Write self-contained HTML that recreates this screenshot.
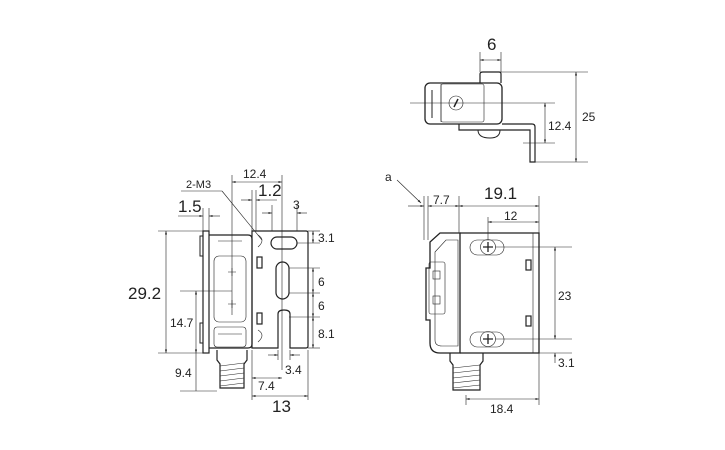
<!DOCTYPE html>
<html><head><meta charset="utf-8"><style>
html,body{margin:0;padding:0;background:#fff;}
svg{display:block;font-family:"Liberation Sans",Arial,sans-serif;}
</style></head><body>
<svg width="725" height="450" viewBox="0 0 725 450" xmlns="http://www.w3.org/2000/svg">
<defs>
<marker id="a" viewBox="0 0 10 10" refX="10" refY="5" markerWidth="6" markerHeight="6" orient="auto-start-reverse"><path d="M0,2 L10,5 L0,8 z" fill="#222"/></marker>
</defs>
<g fill="none" stroke="#222" stroke-width="0.6">
<!-- ===== TOP VIEW ===== -->
<rect x="425" y="83" width="77" height="41" rx="5" stroke-width="1.3"/>
<rect x="441" y="84" width="43" height="38" rx="2"/>
<line x1="432" y1="90" x2="432" y2="118" stroke-width="1"/>
<line x1="441" y1="84" x2="441" y2="122"/>
<circle cx="456" cy="103" r="7"/>
<line x1="454" y1="107" x2="458" y2="99" stroke-width="1.5"/>
<path d="M480,83 V74 Q480,72 483,72 H499 Q501,72 501,74 V83" stroke-width="1.2"/>
<path d="M459,124 V130 H530 V162 H535 V127 Q535,124 532,124 H502" stroke-width="1.2"/>
<path d="M478,130 Q478,138 490,138 Q500,138 500,130" stroke-width="1"/>
<!-- top dims -->
<line x1="480" y1="52" x2="480" y2="72"/>
<line x1="501" y1="52" x2="501" y2="72"/>
<line x1="480" y1="60" x2="501" y2="60" marker-start="url(#a)" marker-end="url(#a)"/>
<line x1="501" y1="72" x2="588" y2="72"/>
<line x1="535" y1="162" x2="588" y2="162"/>
<line x1="576" y1="72" x2="576" y2="162" marker-start="url(#a)" marker-end="url(#a)"/>
<line x1="410" y1="103" x2="555" y2="103"/>
<line x1="523" y1="143" x2="555" y2="143"/>
<line x1="545" y1="103" x2="545" y2="143" marker-start="url(#a)" marker-end="url(#a)"/>

<!-- ===== LEFT VIEW ===== -->
<rect x="203" y="231" width="6" height="122" stroke-width="1.2"/>
<path d="M203,236 h-3 v20 h3 M203,323 h-3 v20 h3" stroke-width="1"/>
<path d="M209,235 H248 Q252,235 252,239 V344 Q252,348 248,348 H209" stroke-width="1.2"/>
<rect x="214" y="256" width="32" height="66" rx="5"/>
<line x1="218" y1="241" x2="242" y2="241"/>
<line x1="218" y1="334" x2="242" y2="334"/>
<rect x="214" y="327" width="32" height="20" rx="3"/>
<path d="M228,272 h8 M232,268 v8 M228,304 h8 M232,300 v8"/>
<path d="M252,231 H306 Q308,231 308,233 V346 Q308,348 306,348 H290 V314 Q290,310 284,310 Q278,310 278,314 V348 H252 Z" stroke-width="1.2"/>
<rect x="271" y="237" width="26" height="12" rx="6" stroke-width="1.2"/>
<rect x="276" y="262" width="13" height="37" rx="6.5" stroke-width="1.2"/>
<rect x="257" y="257" width="5" height="11" stroke-width="1.2"/>
<rect x="257" y="313" width="5" height="11" stroke-width="1.2"/>
<path d="M258,235 q8,5 0,12 M258,330 q8,5 0,12"/>
<!-- connector -->
<path d="M217,350 v10 l3,4 v24 h24 v-24 l3,-4 v-10" stroke-width="1.2"/>
<path d="M220,366 l24,-3 M220,371 l24,-3 M220,376 l24,-3 M220,381 l24,-3 M220,386 l24,-3"/>
<!-- left dims -->
<line x1="158" y1="231" x2="203" y2="231"/>
<line x1="158" y1="353" x2="203" y2="353"/>
<line x1="166" y1="231" x2="166" y2="353" marker-start="url(#a)" marker-end="url(#a)"/>
<line x1="180" y1="291" x2="232" y2="291"/>
<line x1="196" y1="291" x2="196" y2="353" marker-start="url(#a)" marker-end="url(#a)"/>
<line x1="180" y1="391" x2="217" y2="391"/>
<line x1="196" y1="353" x2="196" y2="391"/>
<line x1="232" y1="175" x2="232" y2="315"/>
<line x1="282" y1="175" x2="282" y2="370"/>
<line x1="232" y1="182" x2="282" y2="182" marker-start="url(#a)" marker-end="url(#a)"/>
<line x1="203" y1="208" x2="203" y2="231"/>
<line x1="209" y1="208" x2="209" y2="231"/>
<line x1="178" y1="216" x2="203" y2="216" marker-end="url(#a)"/>
<line x1="220" y1="216" x2="209" y2="216" marker-end="url(#a)"/>
<line x1="252" y1="190" x2="252" y2="231"/>
<line x1="256" y1="190" x2="256" y2="231"/>
<line x1="241" y1="200" x2="252" y2="200" marker-end="url(#a)"/>
<line x1="277" y1="200" x2="256" y2="200" marker-end="url(#a)"/>
<line x1="272" y1="205" x2="272" y2="231"/>
<line x1="297" y1="205" x2="297" y2="231"/>
<line x1="262" y1="213" x2="272" y2="213" marker-end="url(#a)"/>
<line x1="307" y1="213" x2="297" y2="213" marker-end="url(#a)"/>
<line x1="181" y1="191" x2="222" y2="191"/>
<line x1="222" y1="191" x2="262" y2="240"/>
<line x1="308" y1="231" x2="320" y2="231"/>
<line x1="297" y1="243" x2="320" y2="243"/>
<line x1="313" y1="231" x2="313" y2="243" marker-start="url(#a)" marker-end="url(#a)"/>
<line x1="289" y1="268" x2="320" y2="268"/>
<line x1="289" y1="293" x2="320" y2="293"/>
<line x1="289" y1="317" x2="320" y2="317"/>
<line x1="308" y1="348" x2="320" y2="348"/>
<line x1="313" y1="268" x2="313" y2="293" marker-start="url(#a)" marker-end="url(#a)"/>
<line x1="313" y1="293" x2="313" y2="317" marker-start="url(#a)" marker-end="url(#a)"/>
<line x1="313" y1="317" x2="313" y2="348" marker-start="url(#a)" marker-end="url(#a)"/>
<line x1="278" y1="350" x2="278" y2="360"/>
<line x1="290" y1="350" x2="290" y2="360"/>
<line x1="268" y1="355" x2="278" y2="355" marker-end="url(#a)"/>
<line x1="300" y1="355" x2="290" y2="355" marker-end="url(#a)"/>
<line x1="252" y1="350" x2="252" y2="400"/>
<line x1="308" y1="350" x2="308" y2="400"/>
<line x1="252" y1="378" x2="282" y2="378" marker-start="url(#a)" marker-end="url(#a)"/>
<line x1="252" y1="396" x2="308" y2="396" marker-start="url(#a)" marker-end="url(#a)"/>

<!-- ===== RIGHT VIEW ===== -->
<path d="M460,233 H539 V353 H460" stroke-width="1.3"/>
<line x1="533" y1="233" x2="533" y2="353"/>
<path d="M460,233 H440 L430,242 V268 H426 V320 H430 V343 Q430,353 440,353 H460 Z" stroke-width="1.3"/>
<path d="M435,252 L446,240 H458 V346 H442 Q435,346 435,340 Z"/>
<rect x="429" y="262" width="16" height="52" rx="2"/>
<rect x="433" y="271" width="7" height="8"/><rect x="433" y="296" width="7" height="8"/>
<rect x="526" y="260" width="5" height="10" stroke-width="1.2"/>
<rect x="526" y="316" width="5" height="10" stroke-width="1.2"/>
<rect x="470" y="240" width="34" height="15" rx="7.5"/>
<circle cx="488" cy="247" r="7.5"/>
<path d="M483,247 h10 M488,242 v10" stroke-width="1.3"/>
<rect x="470" y="332" width="34" height="15" rx="7.5"/>
<circle cx="488" cy="339" r="7.5"/>
<path d="M483,339 h10 M488,334 v10" stroke-width="1.3"/>
<path d="M450,353 v8 l3,4 v25 h27 v-25 l3,-4 v-8" stroke-width="1.2"/>
<path d="M453,368 l27,-3 M453,373 l27,-3 M453,378 l27,-3 M453,383 l27,-3 M453,388 l27,-3"/>
<!-- right dims -->
<line x1="424" y1="196" x2="424" y2="240"/>
<line x1="428" y1="196" x2="428" y2="240"/>
<line x1="459" y1="196" x2="459" y2="233"/>
<line x1="539" y1="196" x2="539" y2="233"/>
<line x1="408" y1="206" x2="424" y2="206" marker-end="url(#a)"/>
<line x1="428" y1="206" x2="459" y2="206" marker-start="url(#a)" marker-end="url(#a)"/>
<line x1="459" y1="206" x2="539" y2="206" marker-start="url(#a)" marker-end="url(#a)"/>
<line x1="488" y1="217" x2="488" y2="240"/>
<line x1="488" y1="222" x2="539" y2="222" marker-start="url(#a)" marker-end="url(#a)"/>
<line x1="397" y1="180" x2="421" y2="203" marker-end="url(#a)"/>
<line x1="495" y1="247" x2="572" y2="247"/>
<line x1="495" y1="339" x2="572" y2="339"/>
<line x1="539" y1="353" x2="572" y2="353"/>
<line x1="555" y1="247" x2="555" y2="339" marker-start="url(#a)" marker-end="url(#a)"/>
<line x1="555" y1="363" x2="555" y2="353" marker-end="url(#a)"/>
<line x1="466" y1="395" x2="466" y2="405"/>
<line x1="539" y1="353" x2="539" y2="405"/>
<line x1="466" y1="399" x2="539" y2="399" marker-start="url(#a)" marker-end="url(#a)"/>
</g>
<g fill="#222">
<text x="487" y="50" font-size="17">6</text>
<text x="582" y="121" font-size="12">25</text>
<text x="548" y="130" font-size="12">12.4</text>
<text x="128" y="299" font-size="17">29.2</text>
<text x="170" y="327" font-size="12">14.7</text>
<text x="175" y="377" font-size="12">9.4</text>
<text x="258" y="390" font-size="12">7.4</text>
<text x="285" y="374" font-size="12">3.4</text>
<text x="272" y="412" font-size="17">13</text>
<text x="318" y="338" font-size="12">8.1</text>
<text x="318" y="286" font-size="12">6</text>
<text x="318" y="310" font-size="12">6</text>
<text x="318" y="242" font-size="12">3.1</text>
<text x="293" y="209" font-size="12">3</text>
<text x="258" y="196" font-size="17">1.2</text>
<text x="243" y="178" font-size="12">12.4</text>
<text x="186" y="188" font-size="11">2-M3</text>
<text x="178" y="212" font-size="17">1.5</text>
<text x="484" y="199" font-size="17">19.1</text>
<text x="433" y="204" font-size="12">7.7</text>
<text x="504" y="220" font-size="12">12</text>
<text x="558" y="300" font-size="12">23</text>
<text x="558" y="367" font-size="12">3.1</text>
<text x="490" y="413" font-size="12">18.4</text>
<text x="385" y="181" font-size="12">a</text>
</g>
</svg>
</body></html>
